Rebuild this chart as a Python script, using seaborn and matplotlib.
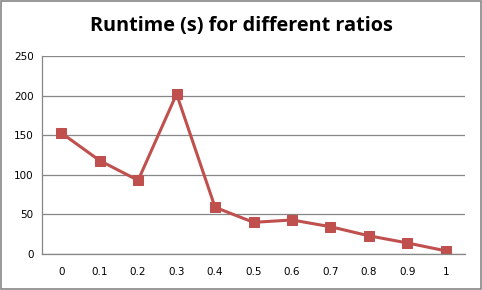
import matplotlib
matplotlib.use("Agg")
import matplotlib.pyplot as plt
import seaborn as sns
import pandas as pd
from matplotlib.patches import Rectangle

# values
ratios = ["0", "0.1", "0.2", "0.3", "0.4", "0.5", "0.6", "0.7", "0.8", "0.9", "1"]
runtime = [153, 118, 93, 202, 59, 40, 43, 34.5, 23, 14, 4]

df = pd.DataFrame({"ratio": ratios, "runtime": runtime})

sns.set_style("white")
plt.rcParams['font.family'] = ['DejaVu Sans']
plt.rcParams['text.color'] = 'black'
plt.rcParams['xtick.labelcolor'] = 'black'
plt.rcParams['ytick.labelcolor'] = 'black'

fig = plt.figure(figsize=(4.82, 2.90), dpi=100)
ax = fig.add_axes([0.087, 0.124, 0.878, 0.683])

red = "#C0504D"
sns.lineplot(data=df, x="ratio", y="runtime", ax=ax, color=red, linewidth=2.2,
             marker="s", markersize=7, markeredgecolor=red, sort=False)

ax.set_ylim(0, 250)
ax.set_yticks(range(0, 251, 50))
ax.set_xlim(-0.5, len(ratios) - 0.5)
ax.set_xticks(range(len(ratios)))
ax.set_xticklabels(ratios)
ax.set_xticks([i - 0.5 for i in range(len(ratios) + 1)], minor=True)
ax.tick_params(axis="x", which="major", length=0, pad=9, labelsize=7.5, labelcolor="black")
ax.tick_params(axis="x", which="minor", length=4, color="#868686", direction="out")
ax.tick_params(axis="y", length=4, color="#868686", direction="out", labelsize=7.5, pad=2,
               labelcolor="black")
ax.set_xlabel("")
ax.set_ylabel("")

ax.yaxis.grid(True, color="#868686", linewidth=0.9)
ax.set_axisbelow(True)
for side in ["top", "right"]:
    ax.spines[side].set_visible(False)
for side in ["left", "bottom"]:
    ax.spines[side].set_color("#868686")
    ax.spines[side].set_linewidth(0.9)

fig.text(0.5, 0.91, "Runtime (s) for different ratios", ha="center", va="center",
         fontsize=14.3, fontweight="bold", color="black", family=["Open Sans", "DejaVu Sans"])

# outer chart border
fig.patches.append(Rectangle((0.002, 0.003), 0.995, 0.994, transform=fig.transFigure,
                             fill=False, edgecolor="#868686", linewidth=1.2))

fig.savefig("out.png", dpi=100)
